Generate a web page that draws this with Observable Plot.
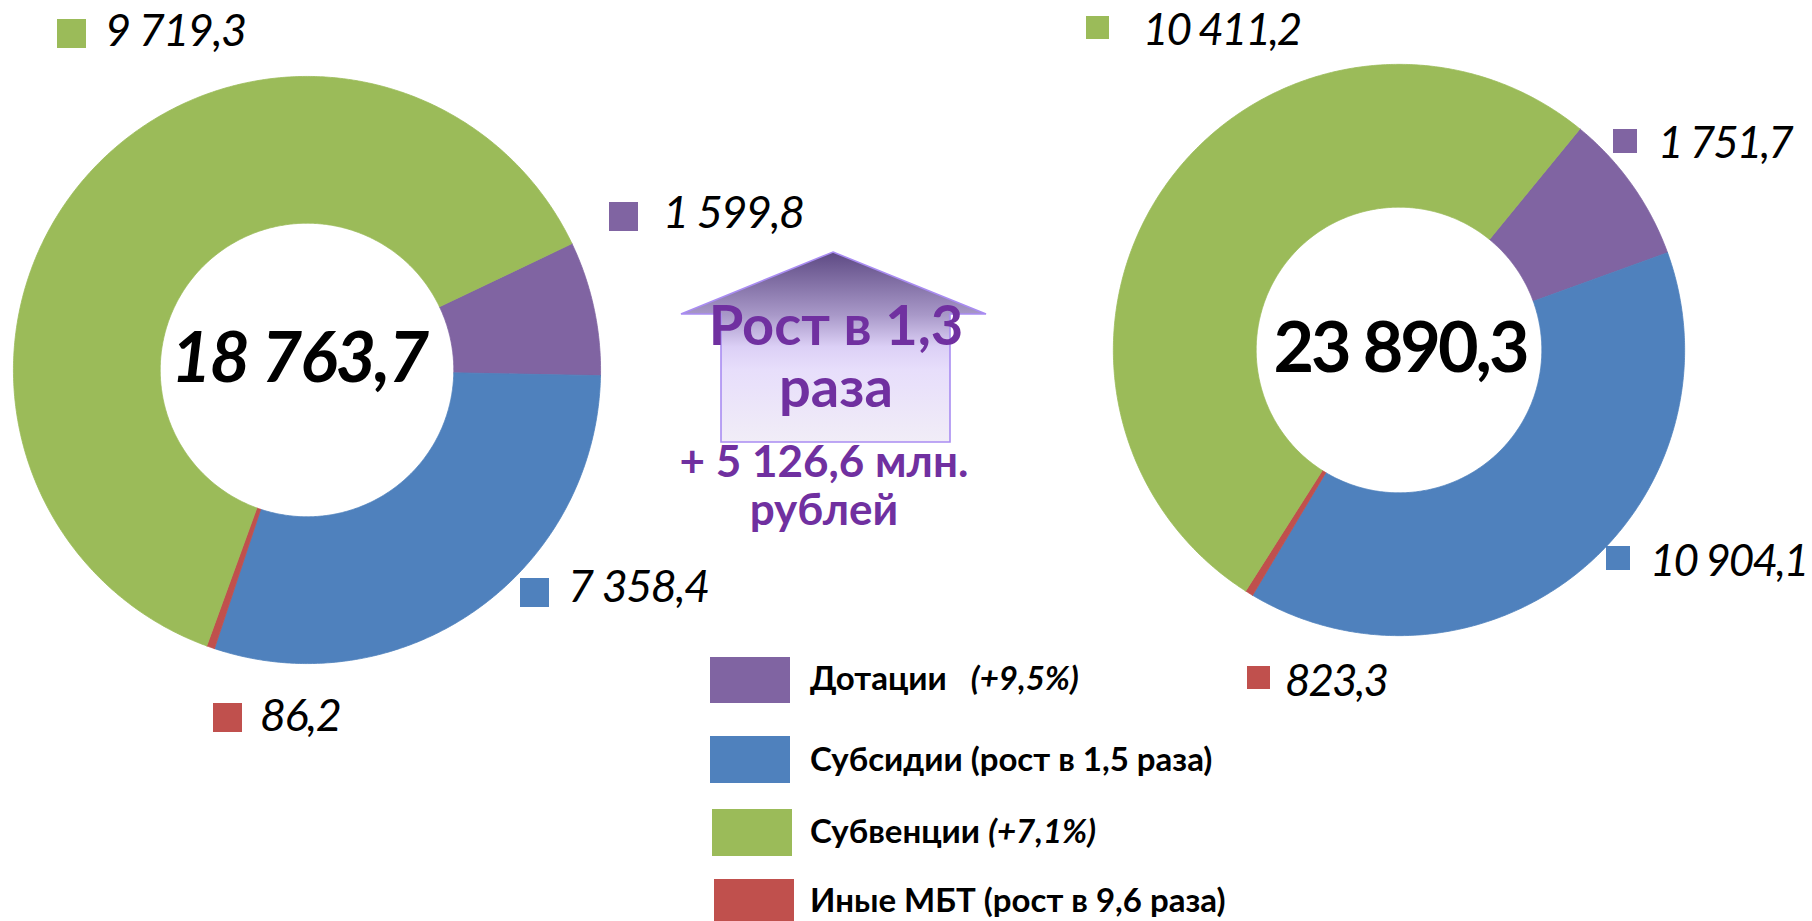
<!DOCTYPE html>
<html lang="ru">
<head>
<meta charset="utf-8">
<script src="https://cdn.jsdelivr.net/npm/d3@7"></script>
<script src="https://cdn.jsdelivr.net/npm/@observablehq/plot@0.6"></script>
<style>
  html, body { margin: 0; padding: 0; background: #fff; }
  #root { position: relative; width: 1812px; height: 921px; overflow: hidden; background: #fff;
          font-family: Lato, "Open Sans", "Noto Sans", sans-serif; }
  .abs { position: absolute; white-space: nowrap; line-height: 1; }
  .sq { position: absolute; }
  .val { font-style: italic; font-weight: 400; color: #000; }
  .leg { font-weight: 700; color: #000; }
  .leg i { font-style: italic; }
  .arrowtxt { font-weight: 700; color: #7030a0; text-align: center; }
</style>
</head>
<body>
<div id="root"></div>
<script>
// ---------------- data ----------------
// slice order, clockwise, as drawn in both rings
const categories = ["Дотации", "Субсидии", "Иные МБТ", "Субвенции"];
const colors = ["#8064a2", "#4f81bd", "#c0504d", "#9bbb59"];

// data labels (млн. рублей)
const valuesLeft = [1599.8, 7358.4, 86.2, 9719.3];
const valuesRight = [1751.7, 10904.1, 823.3, 10411.2];

const sharesLeft = [7.39, 29.8, 0.44, 62.37];
const sharesRight = [8.55, 39.1, 0.45, 51.9];

// legend
const legendNames = ["Дотации", "Субсидии", "Субвенции", "Иные МБТ"];
const legendNotes = ["(+9,5%)", "(рост в 1,5 раза)", "(+7,1%)", "(рост в 9,6 раза)"];
const legendNoteItalic = [true, false, true, false];

// growth arrow text
const growthLines = ["Рост в 1,3", "раза"];
const growthSubLines = ["+ 5 126,6 млн.", "рублей"];

// ---------------- layout ----------------
const ringLeft = {cx: 306.5, cy: 369, R: 293.5, inner: 0.5, start: 64.5, italic: true, fs: 70, dx: -8, dy: -10, ls: -2};
const ringRight = {cx: 1398.4, cy: 349.5, R: 285.6, inner: 0.5, start: 39.3, italic: false, fs: 70, dx: 1, dy: 0, ls: -3};
// label boxes: [squareLeft, squareTop, squareSize, textLeft, textBaseline] per category
const labelsLeftPos = [[609, 202, 29, 663, 229], [520, 578, 29, 568, 603], [213, 703, 29, 260, 732], [57, 19, 29, 105, 47]];
const labelsRightPos = [[1613, 129, 24, 1658, 158], [1606, 546, 24, 1650, 576], [1247, 666, 23, 1285, 696], [1086, 16, 23, 1143, 45]];
const labelFontLeft = {fs: 45, ls: -1.5}, labelFontRight = {fs: 44, ls: -2};
const legendRects = [[710, 657, 80, 46], [710, 736, 80, 47], [712, 809, 80, 47], [714, 879, 80, 46]];
const legendTextLeft = 810, legendBase = [690, 771, 843, 912], legendFont = 33;

const ru = d3.formatLocale({decimal: ",", thousands: "\u00a0", grouping: [3], currency: ["", ""]});
const fmt = ru.format(",.1f");

const root = document.getElementById("root");
const colorOf = c => colors[categories.indexOf(c)];

function ringPoints(shares, startDeg, inner) {
  const total = d3.sum(shares);
  let a = startDeg * Math.PI / 180;
  const pts = [];
  shares.forEach((s, i) => {
    const a0 = a, a1 = a + s / total * 2 * Math.PI;
    a = a1;
    const n = Math.max(2, Math.ceil((a1 - a0) / (Math.PI / 360)));
    const ring = [];
    for (let k = 0; k <= n; k++) { const t = a0 + (a1 - a0) * k / n; ring.push([Math.sin(t), Math.cos(t)]); }
    for (let k = n; k >= 0; k--) { const t = a0 + (a1 - a0) * k / n; ring.push([inner * Math.sin(t), inner * Math.cos(t)]); }
    ring.push(ring[0]);
    ring.forEach(([x, y]) => pts.push({cat: categories[i], x, y}));
  });
  return pts;
}

function drawRing(shares, values, L) {
  const pad = 1.01;
  const size = Math.round(2 * pad * L.R);
  const pts = ringPoints(shares, L.start, L.inner);
  const chart = Plot.plot({
    width: size, height: size, margin: 0,
    x: {domain: [-pad, pad], axis: null},
    y: {domain: [-pad, pad], axis: null},
    color: {domain: categories, range: colors},
    style: {background: "transparent", overflow: "visible", letterSpacing: L.ls + "px"},
    marks: [
      Plot.line(pts, {x: "x", y: "y", z: "cat", fill: "cat", stroke: "cat", strokeWidth: 0.8, curve: "linear"}),
      Plot.text([{x: 0, y: 0, t: fmt(d3.sum(values))}], {
        x: "x", y: "y", text: "t", dx: L.dx, dy: L.dy,
        fontSize: L.fs, fontWeight: 700, fontStyle: L.italic ? "italic" : "normal",
        fontFamily: "Lato, 'Open Sans', sans-serif", fill: "#000", textAnchor: "middle", lineAnchor: "middle"
      })
    ]
  });
  chart.style.position = "absolute";
  chart.style.left = (L.cx - size / 2) + "px";
  chart.style.top = (L.cy - size / 2) + "px";
  root.appendChild(chart);
}

function addDiv(cls, left, top, html, extra = {}) {
  const d = document.createElement("div");
  d.className = cls;
  d.style.left = left + "px";
  d.style.top = top + "px";
  Object.assign(d.style, extra);
  d.innerHTML = html;
  root.appendChild(d);
  return d;
}

function drawLabels(values, pos, F) {
  values.forEach((v, i) => {
    const [sx, sy, ss, tx, tb] = pos[i];
    addDiv("sq", sx, sy, "", {width: ss + "px", height: ss + "px", background: colors[i]});
    addDiv("abs val", tx, tb - 0.887 * F.fs, fmt(v), {fontSize: F.fs + "px", letterSpacing: F.ls + "px"});
  });
}

drawRing(sharesLeft, valuesLeft, ringLeft);
drawRing(sharesRight, valuesRight, ringRight);
drawLabels(valuesLeft, labelsLeftPos, labelFontLeft);
drawLabels(valuesRight, labelsRightPos, labelFontRight);

// legend
legendNames.forEach((name, i) => {
  const [x, y, w, h] = legendRects[i];
  addDiv("sq", x, y, "", {width: w + "px", height: h + "px", background: colorOf(name)});
  const note = legendNoteItalic[i] ? `<i>${legendNotes[i]}</i>` : legendNotes[i];
  const gap = i === 0 ? "\u00a0\u00a0\u00a0" : " ";
  addDiv("abs leg", legendTextLeft, legendBase[i] - 0.887 * legendFont, name + gap + note, {fontSize: legendFont + "px"});
});

// growth arrow
const ns = "http://www.w3.org/2000/svg";
const arrow = document.createElementNS(ns, "svg");
arrow.setAttribute("width", 1812); arrow.setAttribute("height", 921);
arrow.style.position = "absolute"; arrow.style.left = "0"; arrow.style.top = "0";
arrow.innerHTML = `
  <defs>
    <linearGradient id="ag" x1="0" y1="252" x2="0" y2="442" gradientUnits="userSpaceOnUse">
      <stop offset="0" stop-color="#5e4a84"/>
      <stop offset="0.33" stop-color="#a898c8"/>
      <stop offset="0.5" stop-color="#dcd0f6"/>
      <stop offset="0.62" stop-color="#e7defb"/>
      <stop offset="1" stop-color="#f1edf7"/>
    </linearGradient>
  </defs>
  <polygon points="833,252 986,314 950,314 950,442 721,442 721,314 681,314"
           fill="url(#ag)" stroke="#a98cf2" stroke-width="1.6" stroke-linejoin="miter"/>`;
root.appendChild(arrow);

const gFont1 = 56, gFont2 = 44;
addDiv("abs arrowtxt", 636, 346 - 0.887 * gFont1, growthLines[0], {fontSize: gFont1 + "px", width: "400px"});
addDiv("abs arrowtxt", 636, 408 - 0.887 * gFont1, growthLines[1], {fontSize: gFont1 + "px", width: "400px"});
addDiv("abs arrowtxt", 624, 477 - 0.887 * gFont2, growthSubLines[0], {fontSize: gFont2 + "px", width: "400px"});
addDiv("abs arrowtxt", 624, 525 - 0.887 * gFont2, growthSubLines[1], {fontSize: gFont2 + "px", width: "400px"});
</script>
</body>
</html>
